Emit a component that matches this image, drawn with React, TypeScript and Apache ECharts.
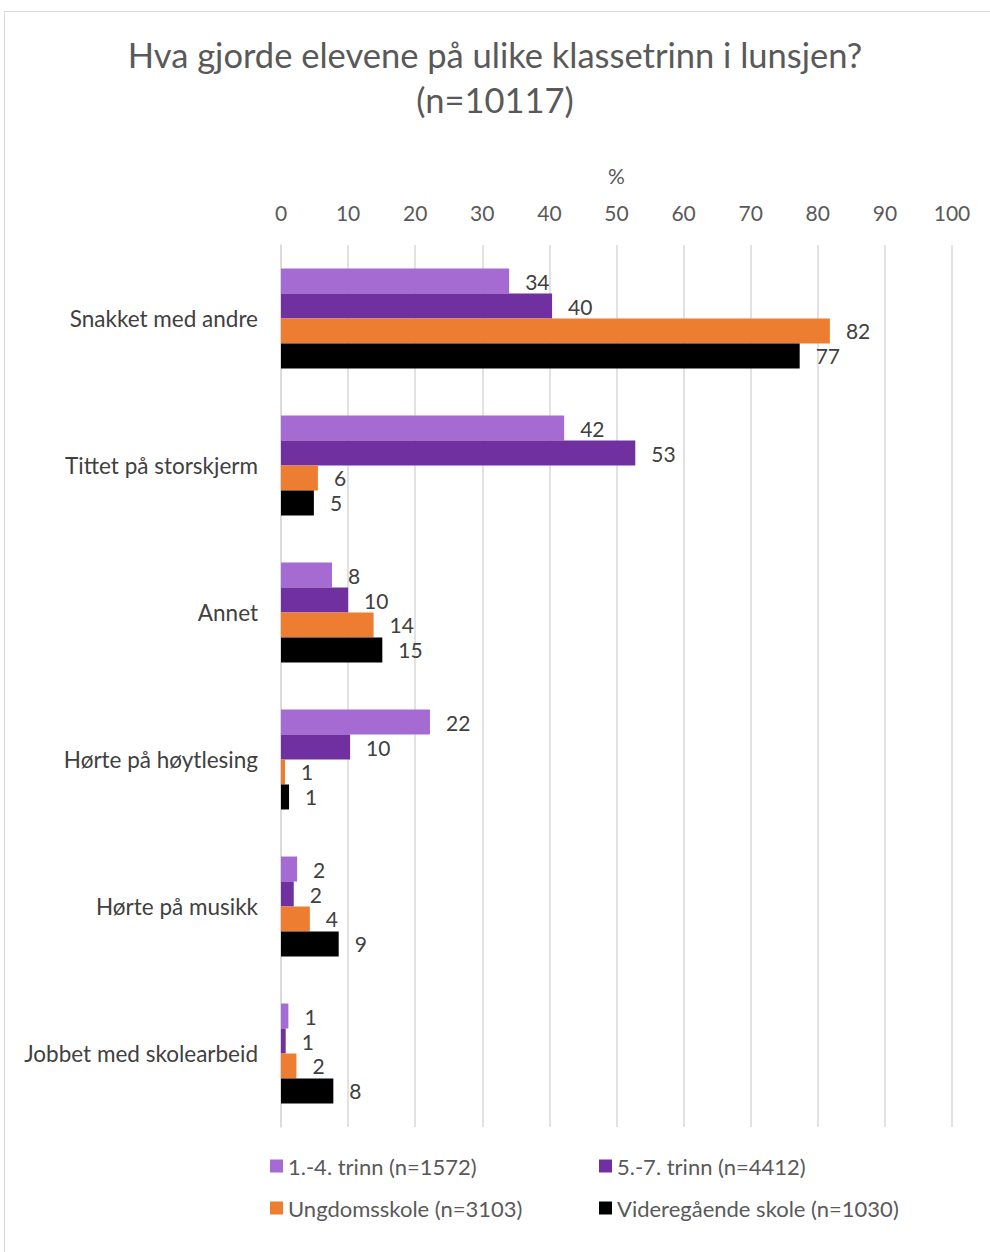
import React, { useEffect, useRef } from "react";
import * as echarts from "echarts";

const categories = [
  "Snakket med andre",
  "Tittet på storskjerm",
  "Annet",
  "Hørte på høytlesing",
  "Hørte på musikk",
  "Jobbet med skolearbeid",
];
const seriesNames = [
  "1.-4. trinn (n=1572)",
  "5.-7. trinn (n=4412)",
  "Ungdomsskole (n=3103)",
  "Videregående skole (n=1030)",
];
const trinn14 = [34.0, 42.2, 7.6, 22.2, 2.4, 1.1];
const trinn57 = [40.4, 52.8, 10.0, 10.3, 1.9, 0.7];
const ungdom = [81.8, 5.5, 13.8, 0.6, 4.3, 2.3];
const vgs = [77.3, 4.9, 15.1, 1.2, 8.6, 7.8];
const colors = ["#A66BD3", "#7030A0", "#ED7D31", "#000000"];
const FONT = "Lato";

export default function App() {
  const ref = useRef<HTMLDivElement>(null);
  useEffect(() => {
    document.body.style.margin = "0";
    const chart = echarts.init(ref.current!, null, { renderer: "svg" });
    const data = [trinn14, trinn57, ungdom, vgs];
    const legendText = { fontFamily: FONT, fontSize: 22, color: "#595959" };
    chart.setOption({
      animation: false,
      textStyle: { fontFamily: FONT },
      title: {
        text: "Hva gjorde elevene på ulike klassetrinn i lunsjen?\n(n=10117)",
        left: "center",
        top: 27,
        textStyle: {
          fontFamily: FONT,
          fontSize: 34.5,
          fontWeight: "normal",
          color: "#595959",
          lineHeight: 45,
        },
      },
      graphic: [
        {
          type: "rect",
          shape: { x: 4.5, y: 11.5, width: 1000, height: 1300 },
          style: { fill: "none", stroke: "#D9D9D9", lineWidth: 1 },
          silent: true,
        },
      ],
      legend: [
        {
          data: [seriesNames[0], seriesNames[2]],
          orient: "vertical",
          left: 265,
          top: 1150,
          itemWidth: 13,
          itemHeight: 13,
          itemGap: 20,
          icon: "rect",
          textStyle: legendText,
        },
        {
          data: [seriesNames[1], seriesNames[3]],
          orient: "vertical",
          left: 594,
          top: 1150,
          itemWidth: 13,
          itemHeight: 13,
          itemGap: 20,
          icon: "rect",
          textStyle: legendText,
        },
      ],
      grid: { left: 281, right: 38, top: 245, bottom: 125, containLabel: false },
      xAxis: {
        type: "value",
        position: "top",
        min: 0,
        max: 100,
        interval: 10,
        name: "%",
        nameLocation: "middle",
        nameGap: 59,
        nameTextStyle: { fontFamily: FONT, fontSize: 21, color: "#595959" },
        axisLine: { show: false },
        axisTick: { show: false },
        axisLabel: { fontFamily: FONT, fontSize: 21, color: "#595959", margin: 22 },
        splitLine: { show: true, lineStyle: { color: "#D9D9D9", width: 1.5 } },
      },
      yAxis: {
        type: "category",
        inverse: true,
        data: categories,
        axisLine: { show: true, lineStyle: { color: "#D9D9D9", width: 1.5 } },
        axisTick: { show: false },
        axisLabel: { fontFamily: FONT, fontSize: 22.5, color: "#404040", margin: 23 },
      },
      series: data.map((d, i) => ({
        type: "bar",
        name: seriesNames[i],
        data: d,
        barGap: "0%",
        barCategoryGap: "32%",
        itemStyle: { color: colors[i] },
        label: {
          show: true,
          position: "right",
          distance: 16,
          fontFamily: FONT,
          fontSize: 21,
          color: "#404040",
          formatter: (p: any) => String(Math.round(p.value)),
        },
      })),
    });
    return () => chart.dispose();
  }, []);
  return <div ref={ref} style={{ width: 990, height: 1252 }} />;
}
